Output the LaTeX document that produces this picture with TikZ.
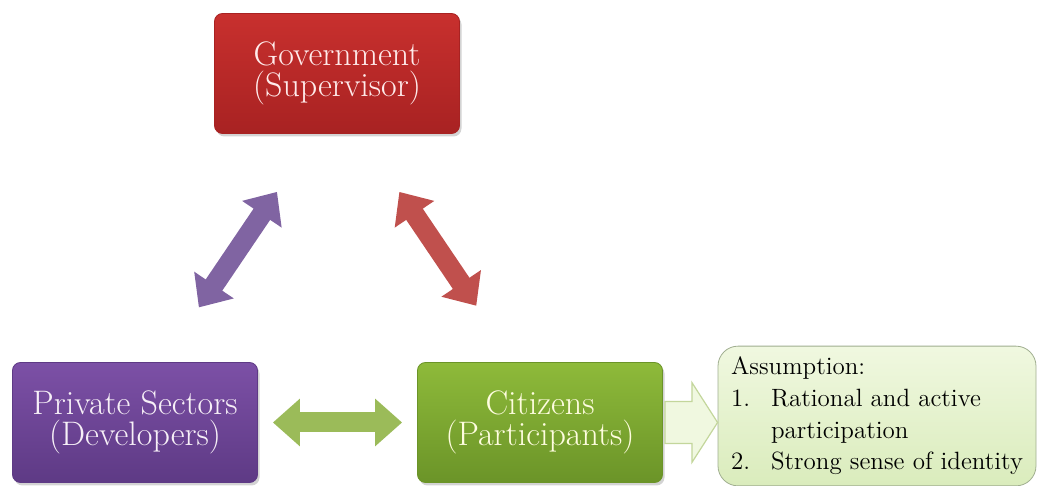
\documentclass[tikz,border=0pt]{standalone}
\usepackage{tikz}
\usetikzlibrary{arrows.meta,shapes,positioning,shadows,calc}
\usepackage{xcolor}
\definecolor{govred}{RGB}{200,48,46}
\definecolor{govdark}{RGB}{168,34,34}
\definecolor{prvpurple}{RGB}{124,80,166}
\definecolor{prvdark}{RGB}{94,58,133}
\definecolor{citgreen}{RGB}{142,186,58}
\definecolor{citdark}{RGB}{107,148,40}
\definecolor{arrred}{RGB}{192,80,77}
\definecolor{arrpurple}{RGB}{128,100,162}
\definecolor{arrgreen}{RGB}{155,187,89}
\definecolor{notetop}{RGB}{240,248,224}
\definecolor{notebot}{RGB}{218,236,188}
\definecolor{noteline}{RGB}{160,174,144}
\tikzstyle{actor} = [rectangle, rounded corners=4pt, minimum width=122.5pt, minimum height=60pt, align=center, font=\fontsize{17}{15.5}\selectfont, drop shadow={shadow xshift=1pt, shadow yshift=-1.5pt, opacity=0.35}]
\tikzstyle{note} = [rectangle, rounded corners=10pt, minimum width=159pt, minimum height=66pt, draw=noteline, top color=notetop, bottom color=notebot, font=\fontsize{12.5}{15.8}\selectfont]
\tikzstyle{dblarrow} = [line width=10pt, {Triangle[length=13.5pt, width=23pt]}-{Triangle[length=13.5pt, width=23pt]}]
\tikzstyle{hollow} = [draw=arrgreen!60, fill=notetop, line width=0.6pt]

\begin{document}
\begin{tikzpicture}[x=0.5pt, y=-0.5pt]
\useasboundingbox (0,0) rectangle (1041,486);
% Actors
\node (gov) [actor, top color=govred, bottom color=govdark, draw=govdark, text=red!8] at (337,73.5) {Government\\(Supervisor)};
\node (priv) [actor, top color=prvpurple, bottom color=prvdark, draw=prvdark, text=violet!6] at (135,422.5) {Private Sectors\\(Developers)};
\node (cit) [actor, top color=citgreen, bottom color=citdark, draw=citdark, text=yellow!12] at (540,422.5) {Citizens\\(Participants)};

% Assumption note
\node (note) [note] at (877,416) {%
\begin{tabular}{@{}p{20pt}@{}l@{}}
\multicolumn{2}{@{}l@{}}{Assumption:}\\
1. & Rational and active\\
 & participation\\
2. & Strong sense of identity
\end{tabular}};

% Relations
\draw[dblarrow, color=arrpurple, shorten <=33pt, shorten >=35pt] (priv.66) -- (gov.251);
\draw[dblarrow, color=arrred, shorten <=35pt, shorten >=34pt] (gov.291) -- (cit.113.5);
\draw[dblarrow, color=arrgreen, shorten <=7.5pt, shorten >=7.5pt] (priv.east) -- (cit.west);

% Arrow to note
\draw[hollow] ($(cit.east)+(2,-21)$) -- ($(cit.east)+(29,-21)$) -- ($(cit.east)+(29,-40)$) -- (note.west |- cit.east) -- ($(cit.east)+(29,40)$) -- ($(cit.east)+(29,21)$) -- ($(cit.east)+(2,21)$) -- cycle;
\end{tikzpicture}
\end{document}
